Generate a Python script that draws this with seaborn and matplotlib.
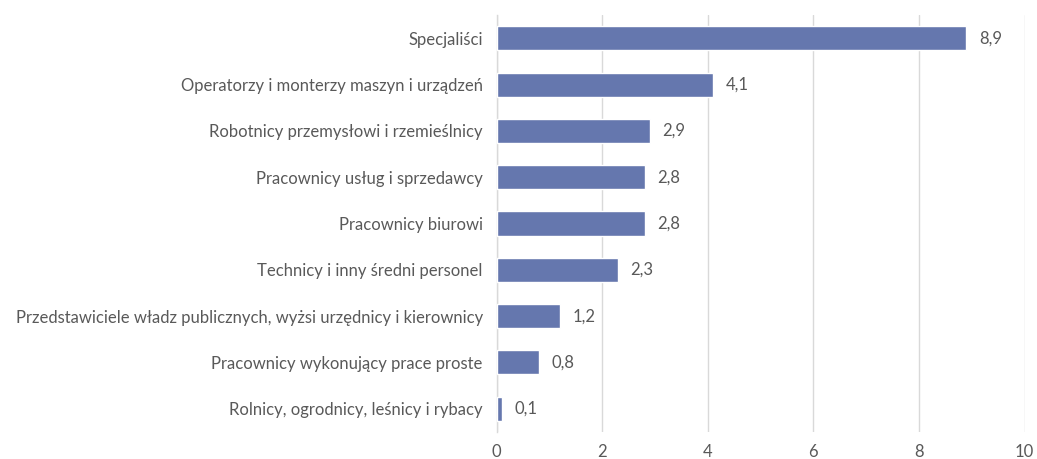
import matplotlib
matplotlib.use("Agg")
import matplotlib.pyplot as plt
import seaborn as sns
import pandas as pd

categories = [
    "Specjaliści",
    "Operatorzy i monterzy maszyn i urządzeń",
    "Robotnicy przemysłowi i rzemieślnicy",
    "Pracownicy usług i sprzedawcy",
    "Pracownicy biurowi",
    "Technicy i inny średni personel",
    "Przedstawiciele władz publicznych, wyżsi urzędnicy i kierownicy",
    "Pracownicy wykonujący prace proste",
    "Rolnicy, ogrodnicy, leśnicy i rybacy",
]
values = [8.9, 4.1, 2.9, 2.8, 2.8, 2.3, 1.2, 0.8, 0.1]
xticks = [0, 2, 4, 6, 8, 10]

df = pd.DataFrame({"kategoria": categories, "wartosc": values})

sns.set_style("white")
plt.rcParams['font.family'] = ['Lato', 'DejaVu Sans']
text_color = '#595959'

fig = plt.figure(figsize=(10.37, 4.59), dpi=100)
ax = fig.add_axes([0.479, 0.059, 0.509, 0.908])

sns.barplot(data=df, x="wartosc", y="kategoria", color='#6577AE', width=0.52,
            saturation=1, ax=ax, zorder=3)

ax.set_xlim(0, 10)
ax.set_xticks(xticks)
ax.set_xticklabels([str(t) for t in xticks])
ax.grid(axis='x', color='#d9d9d9', linewidth=1, zorder=0)
ax.set_axisbelow(True)
for s in ['top', 'right', 'bottom']:
    ax.spines[s].set_visible(False)
ax.spines['left'].set_color('#d9d9d9')
ax.spines['left'].set_linewidth(1)
ax.tick_params(axis='both', length=0, labelsize=12, colors=text_color)
ax.tick_params(axis='y', pad=10)
ax.tick_params(axis='x', pad=9)
ax.set_xlabel(None)
ax.set_ylabel(None)

for p, v in zip(ax.patches, values):
    ax.annotate(f'{v:.1f}'.replace('.', ','),
                (p.get_width(), p.get_y() + p.get_height() / 2),
                xytext=(9, 0), textcoords='offset points',
                ha='left', va='center', fontsize=12, color=text_color)

fig.savefig('out.png', dpi=100)
